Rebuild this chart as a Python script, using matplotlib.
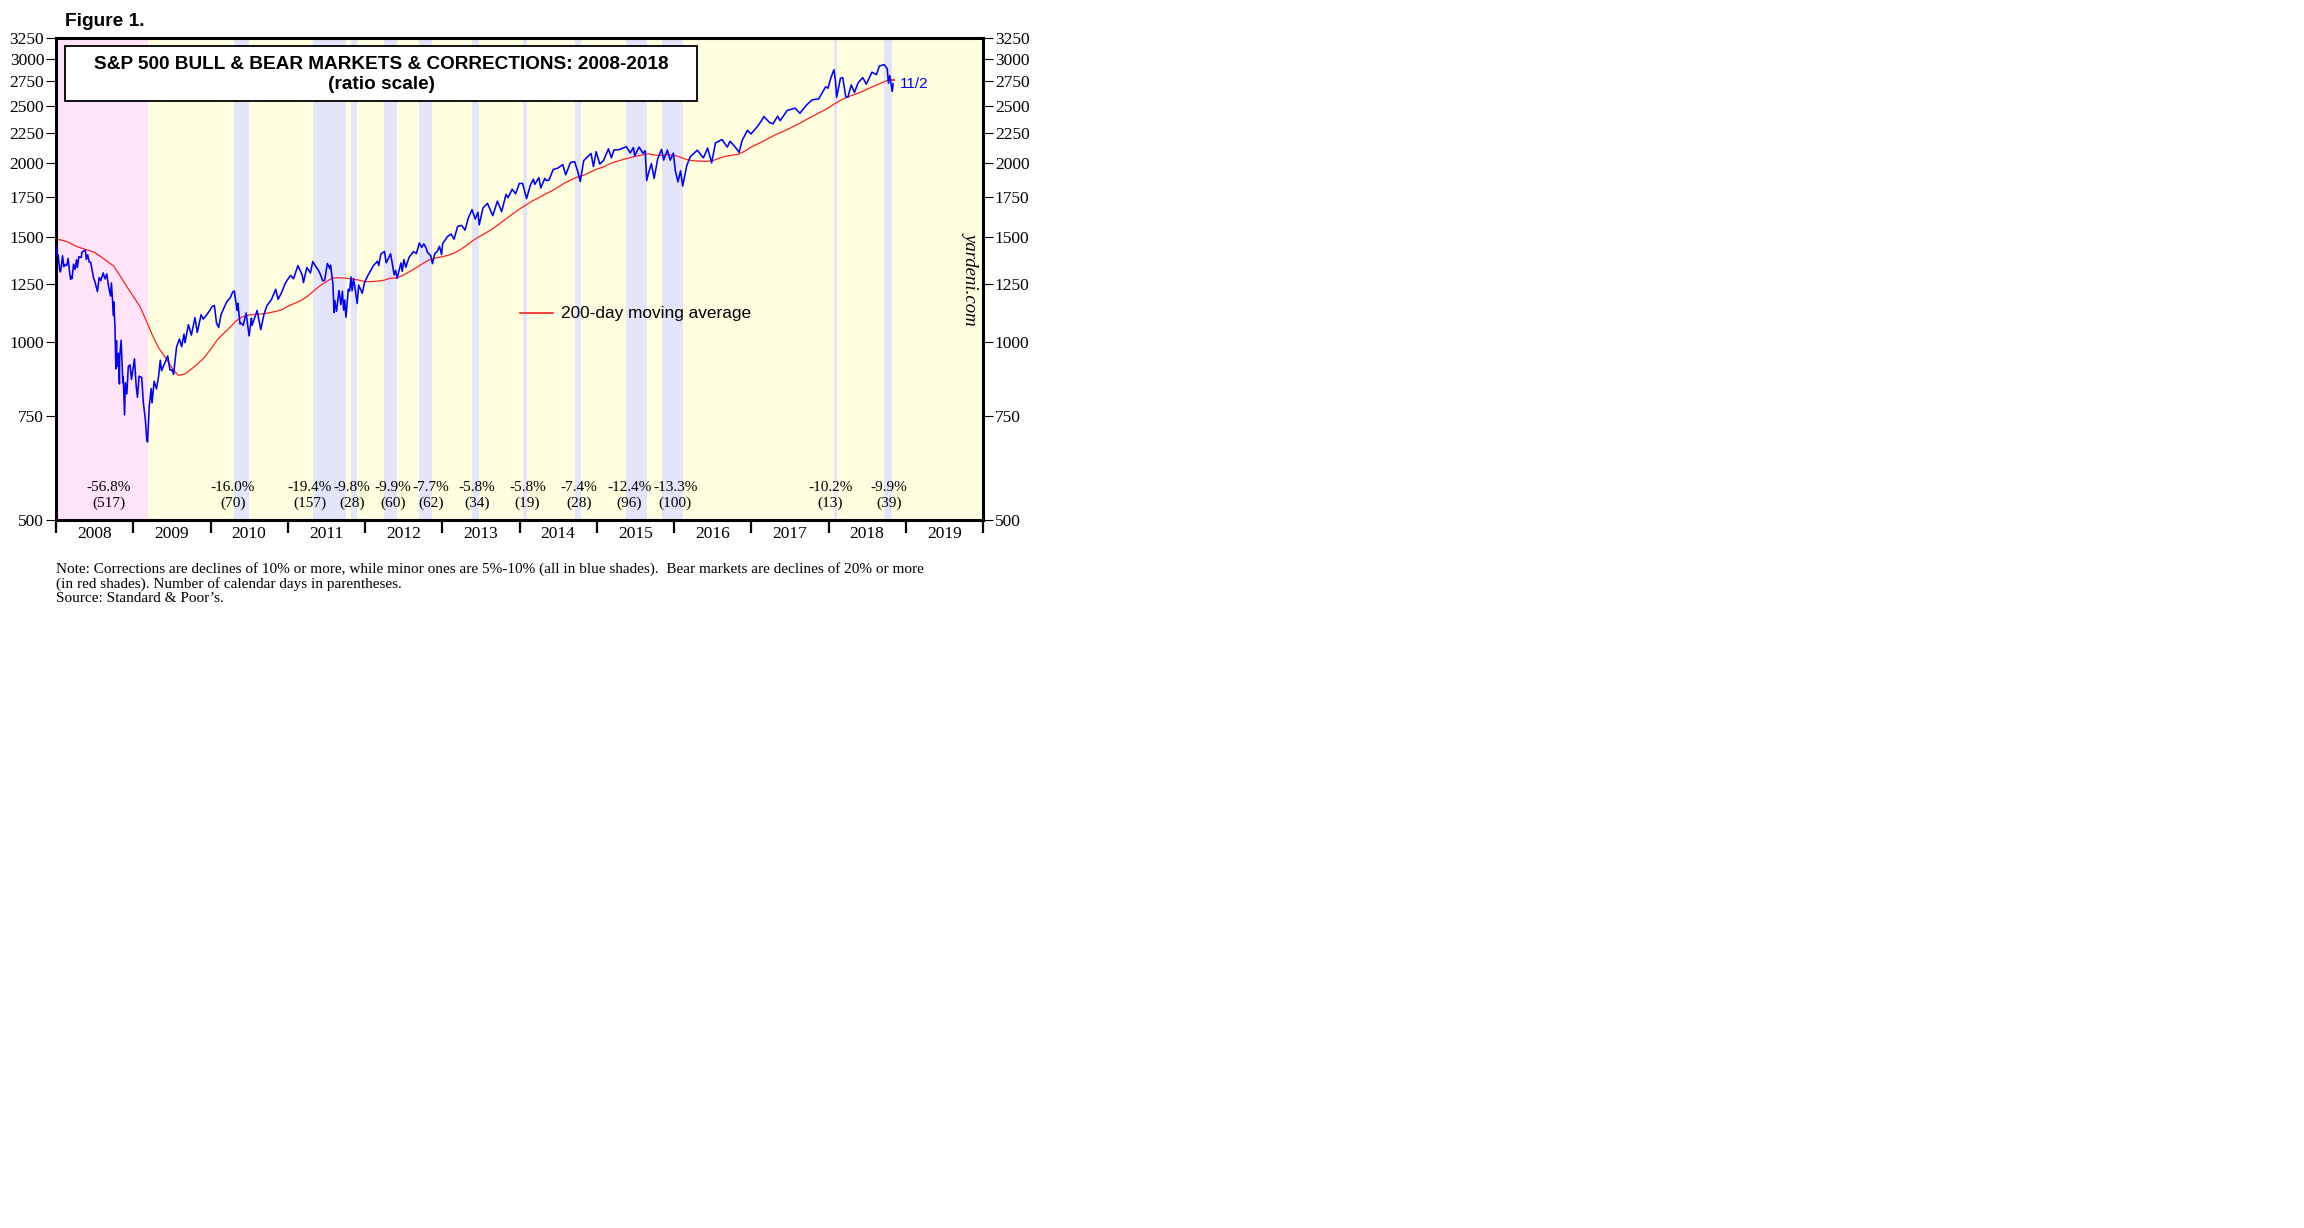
import pandas as pd
import matplotlib
matplotlib.use("Agg")
import matplotlib.pyplot as plt
import matplotlib.dates as mdates
from matplotlib.patches import Rectangle
from matplotlib.ticker import FixedLocator, FixedFormatter, NullLocator

plt.rcParams['font.family'] = ['Liberation Serif', 'DejaVu Serif']

# S&P 500 index
spx_dates = [
    "2008-01-02", "2008-01-08", "2008-01-11", "2008-01-18", "2008-01-22", "2008-01-25", "2008-02-01",
    "2008-02-07", "2008-02-14", "2008-02-21", "2008-02-27", "2008-03-07", "2008-03-10", "2008-03-14",
    "2008-03-17", "2008-03-24", "2008-03-31", "2008-04-07", "2008-04-11", "2008-04-18", "2008-04-30",
    "2008-05-02", "2008-05-19", "2008-05-23", "2008-05-30", "2008-06-06", "2008-06-13", "2008-06-20",
    "2008-06-27", "2008-07-03", "2008-07-15", "2008-07-23", "2008-07-31", "2008-08-11", "2008-08-20",
    "2008-08-28", "2008-09-05", "2008-09-15", "2008-09-19", "2008-09-29", "2008-09-30", "2008-10-06",
    "2008-10-10", "2008-10-13", "2008-10-15", "2008-10-21", "2008-10-27", "2008-10-28", "2008-11-04",
    "2008-11-12", "2008-11-14", "2008-11-20", "2008-11-24", "2008-12-01", "2008-12-08", "2008-12-16",
    "2008-12-23", "2008-12-31",
    "2009-01-06", "2009-01-14", "2009-01-20", "2009-01-28", "2009-02-09", "2009-02-17", "2009-02-27",
    "2009-03-05", "2009-03-09", "2009-03-17", "2009-03-26", "2009-03-30", "2009-04-09", "2009-04-20",
    "2009-04-30", "2009-05-08", "2009-05-14", "2009-05-29", "2009-06-12", "2009-06-23", "2009-07-02",
    "2009-07-10", "2009-07-24", "2009-08-07", "2009-08-17", "2009-08-28", "2009-09-02", "2009-09-18",
    "2009-10-02", "2009-10-19", "2009-10-30", "2009-11-17", "2009-11-27", "2009-12-11", "2009-12-28",
    "2010-01-08", "2010-01-19", "2010-01-29", "2010-02-08", "2010-02-19", "2010-03-05", "2010-03-18",
    "2010-04-05", "2010-04-15", "2010-04-23", "2010-05-06", "2010-05-10", "2010-05-20", "2010-05-25",
    "2010-06-04", "2010-06-18", "2010-07-02", "2010-07-13", "2010-07-16", "2010-08-09", "2010-08-26",
    "2010-09-10", "2010-09-24", "2010-10-15", "2010-11-05", "2010-11-16", "2010-12-01", "2010-12-22",
    "2011-01-14", "2011-01-28", "2011-02-18", "2011-03-10", "2011-03-16", "2011-04-01", "2011-04-18",
    "2011-04-29", "2011-05-13", "2011-05-25", "2011-06-03", "2011-06-15", "2011-06-24", "2011-07-07",
    "2011-07-19", "2011-07-22", "2011-08-02", "2011-08-08", "2011-08-09", "2011-08-11", "2011-08-19",
    "2011-08-31", "2011-09-09", "2011-09-16", "2011-09-22", "2011-09-27", "2011-10-03", "2011-10-14",
    "2011-10-20", "2011-10-27", "2011-11-01", "2011-11-08", "2011-11-17", "2011-11-25", "2011-12-02",
    "2011-12-19", "2011-12-30",
    "2012-01-13", "2012-01-27", "2012-02-10", "2012-02-29", "2012-03-06", "2012-03-16", "2012-04-02",
    "2012-04-10", "2012-04-20", "2012-05-01", "2012-05-18", "2012-05-25", "2012-06-01", "2012-06-19",
    "2012-06-25", "2012-07-03", "2012-07-12", "2012-07-27", "2012-08-17", "2012-08-31", "2012-09-14",
    "2012-09-25", "2012-10-05", "2012-10-15", "2012-10-23", "2012-11-07", "2012-11-15", "2012-11-26",
    "2012-12-07", "2012-12-18", "2012-12-28",
    "2013-01-02", "2013-01-25", "2013-02-11", "2013-02-25", "2013-03-14", "2013-04-02", "2013-04-18",
    "2013-05-03", "2013-05-21", "2013-06-05", "2013-06-18", "2013-06-24", "2013-07-12", "2013-08-02",
    "2013-08-27", "2013-09-18", "2013-10-08", "2013-10-29", "2013-11-07", "2013-11-27", "2013-12-13",
    "2013-12-31",
    "2014-01-15", "2014-02-03", "2014-02-21", "2014-03-07", "2014-03-14", "2014-04-02", "2014-04-11",
    "2014-04-30", "2014-05-07", "2014-05-20", "2014-06-09", "2014-06-30", "2014-07-24", "2014-08-07",
    "2014-08-29", "2014-09-18", "2014-10-01", "2014-10-15", "2014-10-31", "2014-11-20", "2014-12-05",
    "2014-12-16", "2014-12-29",
    "2015-01-15", "2015-02-02", "2015-02-25", "2015-03-11", "2015-03-23", "2015-04-15", "2015-05-21",
    "2015-06-08", "2015-06-23", "2015-06-29", "2015-07-20", "2015-08-07", "2015-08-18", "2015-08-25",
    "2015-09-01", "2015-09-16", "2015-09-29", "2015-10-16", "2015-11-03", "2015-11-13", "2015-12-01",
    "2015-12-14", "2015-12-29",
    "2016-01-07", "2016-01-20", "2016-02-01", "2016-02-11", "2016-03-01", "2016-03-18", "2016-04-20",
    "2016-05-19", "2016-06-08", "2016-06-27", "2016-07-15", "2016-08-15", "2016-09-09", "2016-09-22",
    "2016-10-14", "2016-11-04", "2016-11-18", "2016-12-13", "2016-12-30",
    "2017-01-26", "2017-02-15", "2017-03-01", "2017-03-27", "2017-04-13", "2017-05-05", "2017-05-17",
    "2017-06-19", "2017-07-27", "2017-08-18", "2017-09-20", "2017-10-16", "2017-11-15", "2017-12-18",
    "2017-12-29",
    "2018-01-12", "2018-01-26", "2018-02-02", "2018-02-08", "2018-02-26", "2018-03-09", "2018-03-23",
    "2018-04-02", "2018-04-18", "2018-05-03", "2018-05-21", "2018-06-12", "2018-06-28", "2018-07-25",
    "2018-08-15", "2018-08-29", "2018-09-20", "2018-10-05", "2018-10-11", "2018-10-17", "2018-10-29",
    "2018-11-02",
]
spx_values = [
    1447, 1390, 1401, 1325, 1310, 1330, 1395,
    1337, 1349, 1343, 1381, 1294, 1273, 1288,
    1277, 1350, 1323, 1373, 1333, 1390, 1386,
    1414, 1427, 1376, 1400, 1361, 1360, 1318,
    1278, 1262, 1214, 1282, 1267, 1305, 1275,
    1300, 1242, 1193, 1255, 1106, 1166, 1056,
    899, 1003, 908, 955, 848, 941, 1005,
    852, 873, 752, 852, 816, 909, 913,
    863, 903,
    935, 843, 805, 874, 870, 789, 735,
    683, 677, 778, 833, 788, 857, 832,
    873, 930, 893, 919, 946, 895, 896,
    880, 979, 1010, 980, 1029, 995, 1068,
    1025, 1097, 1036, 1110, 1091, 1106, 1128,
    1145, 1150, 1074, 1056, 1109, 1139, 1166,
    1187, 1211, 1217, 1128, 1160, 1071, 1074,
    1065, 1117, 1022, 1095, 1065, 1128, 1047,
    1110, 1149, 1176, 1225, 1178, 1206, 1258,
    1293, 1276, 1343, 1295, 1257, 1333, 1305,
    1364, 1338, 1320, 1300, 1266, 1268, 1354,
    1327, 1345, 1254, 1119, 1172, 1172, 1124,
    1219, 1154, 1216, 1130, 1175, 1099, 1225,
    1216, 1285, 1218, 1276, 1216, 1159, 1245,
    1206, 1258,
    1289, 1316, 1343, 1366, 1343, 1404, 1419,
    1358, 1379, 1406, 1295, 1318, 1278, 1357,
    1313, 1375, 1334, 1386, 1418, 1407, 1466,
    1441, 1461, 1440, 1413, 1395, 1353, 1407,
    1418, 1447, 1402,
    1462, 1503, 1518, 1488, 1563, 1570, 1541,
    1614, 1669, 1609, 1652, 1573, 1680, 1710,
    1630, 1725, 1656, 1771, 1748, 1807, 1775,
    1848,
    1848, 1742, 1836, 1878, 1841, 1890, 1815,
    1884, 1868, 1872, 1951, 1960, 1988, 1910,
    2003, 2011, 1946, 1862, 2018, 2052, 2075,
    1972, 2090,
    1992, 2020, 2113, 2040, 2104, 2106, 2131,
    2080, 2124, 2057, 2128, 2078, 2097, 1868,
    1914, 1996, 1884, 2033, 2109, 2023, 2103,
    2022, 2078,
    1943, 1859, 1940, 1829, 1978, 2050, 2102,
    2040, 2119, 2001, 2162, 2191, 2128, 2177,
    2133, 2085, 2182, 2271, 2239,
    2297, 2349, 2396, 2342, 2329, 2399, 2357,
    2453, 2475, 2426, 2508, 2557, 2565, 2690,
    2674,
    2786, 2873, 2762, 2581, 2780, 2786, 2588,
    2582, 2708, 2630, 2733, 2786, 2716, 2846,
    2819, 2914, 2931, 2886, 2728, 2809, 2641,
    2723,
]

# 200-day moving average, month ends
ma_dates = ["2008-01-02"] + [d.strftime("%Y-%m-%d") for d in pd.date_range("2008-01-31", "2018-10-31", freq="ME")] + ["2018-11-02"]
ma_values = [
    1487,
    1482, 1470, 1450, 1437, 1426, 1414, 1390, 1364, 1340, 1289, 1239, 1192,
    1147, 1090, 1026, 976, 941, 905, 877, 881, 897, 916, 938, 969,
    1005, 1029, 1054, 1082, 1101, 1108, 1111, 1113, 1117, 1123, 1130, 1146,
    1159, 1171, 1189, 1214, 1240, 1260, 1280, 1281, 1279, 1275, 1270, 1262,
    1262, 1264, 1269, 1279, 1280, 1294, 1313, 1332, 1354, 1373, 1383, 1390,
    1399, 1411, 1432, 1457, 1485, 1507, 1529, 1553, 1582, 1612, 1642, 1672,
    1699, 1724, 1746, 1771, 1793, 1820, 1849, 1873, 1894, 1907, 1929, 1953,
    1969, 1991, 2010, 2025, 2039, 2052, 2062, 2073, 2063, 2060, 2065, 2062,
    2046, 2027, 2018, 2015, 2013, 2017, 2037, 2053, 2061, 2069, 2094, 2128,
    2154, 2179, 2209, 2237, 2261, 2287, 2317, 2348, 2381, 2412, 2444, 2477,
    2520, 2554, 2585, 2607, 2632, 2662, 2692, 2722, 2752, 2764,
    2766,
]

# bear market (red) and corrections (blue)
bear_start = "2007-10-09"
bear_end = "2009-03-09"
bear_pct = "-56.8%"
bear_days = "(517)"

corr_start = ["2010-04-23", "2011-04-29", "2011-10-27", "2012-04-02", "2012-09-14", "2013-05-21",
              "2014-01-15", "2014-09-18", "2015-05-21", "2015-11-03", "2018-01-26", "2018-09-20"]
corr_end = ["2010-07-02", "2011-10-03", "2011-11-25", "2012-06-01", "2012-11-15", "2013-06-24",
            "2014-02-03", "2014-10-16", "2015-08-25", "2016-02-11", "2018-02-08", "2018-10-29"]
corr_pct = ["-16.0%", "-19.4%", "-9.8%", "-9.9%", "-7.7%", "-5.8%",
            "-5.8%", "-7.4%", "-12.4%", "-13.3%", "-10.2%", "-9.9%"]
corr_days = ["(70)", "(157)", "(28)", "(60)", "(62)", "(34)",
             "(19)", "(28)", "(96)", "(100)", "(13)", "(39)"]

y_ticks = [500, 750, 1000, 1250, 1500, 1750, 2000, 2250, 2500, 2750, 3000, 3250]
years = list(range(2008, 2020))

# label nudges in days from the middle of each shade (layout only)
bear_nudge = 34
corr_nudge = [-42, -93, -10, 11, 23, 5, 14, 7, -34, 15, -24, 3]

spx = pd.Series(spx_values, index=pd.to_datetime(spx_dates))
ma = pd.Series(ma_values, index=pd.to_datetime(ma_dates))

fig = plt.figure(figsize=(23.04, 12.28), dpi=100)
ax = fig.add_axes([56 / 2304, 1 - 520 / 1228, 927 / 2304, 482 / 1228])
ax.set_facecolor("#FFFFE0")

x0 = pd.Timestamp("2008-01-01")
x1 = pd.Timestamp("2020-01-01")

# shading
ax.axvspan(pd.Timestamp(bear_start), pd.Timestamp(bear_end), color="#FFE4FA", lw=0, zorder=0)
for s, e in zip(corr_start, corr_end):
    ax.axvspan(pd.Timestamp(s), pd.Timestamp(e), color="#E4E4FA", lw=0, zorder=0)

ax.plot(ma.index, ma.values, color="#FF2020", lw=0.9, zorder=2)
ax.plot(spx.index, spx.values, color="#0000FF", lw=1.15, zorder=3)
ax.plot([ma.index[-1] - pd.Timedelta(days=9), ma.index[-1] + pd.Timedelta(days=3)],
        [ma.values[-1], ma.values[-1]], color="#FF2020", lw=1.3, zorder=2)

ax.annotate("11/2", xy=(spx.index[-1], spx.values[-1]), xytext=(5, 0), textcoords="offset points",
            color="#0000FF", fontsize=11, family="Liberation Sans", va="center", ha="left")

ax.set_yscale("log")
ax.set_ylim(500, 3250)
ax.set_xlim(x0, x1)

ax.yaxis.set_major_locator(FixedLocator(y_ticks))
ax.yaxis.set_major_formatter(FixedFormatter([str(v) for v in y_ticks]))
ax.yaxis.set_minor_locator(NullLocator())
ax.tick_params(axis="y", which="major", direction="out", length=7, width=0.8, pad=1.5,
               labelsize=12.5, left=True, right=True, labelleft=True, labelright=True)

ax.xaxis.set_major_locator(mdates.YearLocator())
ax.xaxis.set_major_formatter(plt.NullFormatter())
ax.xaxis.set_minor_locator(FixedLocator([mdates.date2num(pd.Timestamp(f"{y}-07-02")) for y in years]))
ax.xaxis.set_minor_formatter(FixedFormatter([str(y) for y in years]))
ax.tick_params(axis="x", which="major", direction="out", length=9.5, width=1.6)
ax.tick_params(axis="x", which="minor", length=0, pad=4.5, labelsize=12.5)

for sp in ax.spines.values():
    sp.set_linewidth(2.2)


# bear/correction labels
def put_label(start, end, pct, days, nudge):
    s = max(pd.Timestamp(start), x0)
    mid = s + (pd.Timestamp(end) - s) / 2 + pd.Timedelta(days=nudge)
    ax.text(mid, 0.068, pct, transform=ax.get_xaxis_transform(), ha="center", va="center", fontsize=11)
    ax.text(mid, 0.035, days, transform=ax.get_xaxis_transform(), ha="center", va="center", fontsize=11)


put_label(bear_start, bear_end, bear_pct, bear_days, bear_nudge)
for s, e, p, d, n in zip(corr_start, corr_end, corr_pct, corr_days, corr_nudge):
    put_label(s, e, p, d, n)

# title box
ax.add_patch(Rectangle((0.0097, 0.869), 0.6818, 0.114, transform=ax.transAxes,
                       facecolor="white", edgecolor="black", lw=1.3, zorder=5))
ax.text(0.351, 0.945, "S&P 500 BULL & BEAR MARKETS & CORRECTIONS: 2008-2018", transform=ax.transAxes,
        ha="center", va="center", fontsize=13.7, fontweight="bold", family="Liberation Sans", zorder=6)
ax.text(0.351, 0.903, "(ratio scale)", transform=ax.transAxes,
        ha="center", va="center", fontsize=13.7, fontweight="bold", family="Liberation Sans", zorder=6)

# legend
ax.plot([0.500, 0.536], [0.429, 0.429], transform=ax.transAxes, color="#FF2020", lw=1.2)
ax.text(0.545, 0.429, "200-day moving average", transform=ax.transAxes, ha="left", va="center",
        fontsize=12.4, family="Liberation Sans")

ax.text(0.987, 0.502, "yardeni.com", transform=ax.transAxes, rotation=-90, ha="center", va="center",
        fontsize=13.5, style="italic")

fig.text(65 / 2304, 1 - 22 / 1228, "Figure 1.", ha="left", va="center", fontsize=13.8,
         fontweight="bold", family="Liberation Sans")

notes = [
    "Note: Corrections are declines of 10% or more, while minor ones are 5%-10% (all in blue shades).  Bear markets are declines of 20% or more",
    "(in red shades). Number of calendar days in parentheses.",
    "Source: Standard & Poor\u2019s.",
]
for i, line in enumerate(notes):
    fig.text(56 / 2304, 1 - (569 + 15 * i) / 1228, line, ha="left", va="center", fontsize=11)

fig.savefig("out.png", dpi=100)
